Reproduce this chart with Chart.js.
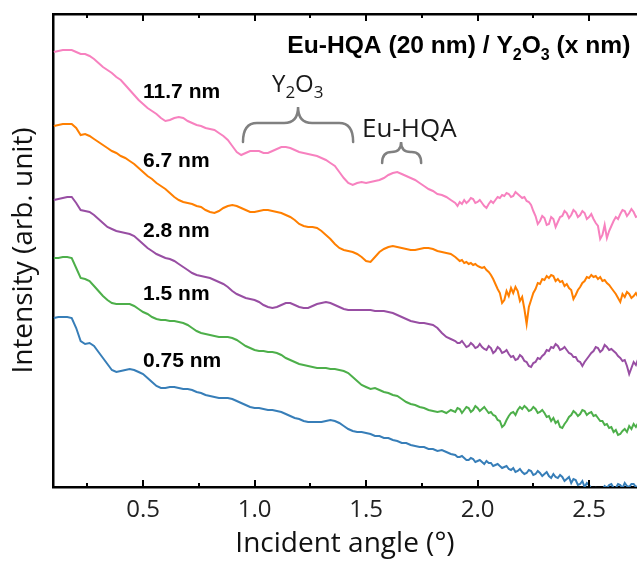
<!DOCTYPE html>
<html><head><meta charset="utf-8">
<script src="https://cdn.jsdelivr.net/npm/chart.js@4.4.1/dist/chart.umd.min.js"></script>
<style>html,body{margin:0;padding:0;background:#fff}canvas{display:block}</style>
</head><body>
<canvas id="c" width="637" height="561"></canvas>
<script>
// Incident angle (deg)
const angles = [
0.10,0.12,0.14,0.16,0.18,0.20,0.22,0.24,0.26,0.28,
0.30,0.32,0.34,0.36,0.38,0.40,0.42,0.44,0.46,0.48,
0.50,0.52,0.54,0.56,0.58,0.60,0.62,0.64,0.66,0.68,
0.70,0.72,0.74,0.76,0.78,0.80,0.82,0.84,0.86,0.88,
0.90,0.92,0.94,0.96,0.98,1.00,1.02,1.04,1.06,1.08,
1.10,1.12,1.14,1.16,1.18,1.20,1.22,1.24,1.26,1.28,
1.30,1.32,1.34,1.36,1.38,1.40,1.42,1.44,1.46,1.48,
1.50,1.52,1.54,1.56,1.58,1.60,1.62,1.64,1.66,1.68,
1.70,1.72,1.74,1.76,1.78,1.80,1.82,1.84,1.86,1.88,
1.90,1.91,1.92,1.93,1.94,1.95,1.96,1.97,1.98,1.99,
2.00,2.01,2.02,2.03,2.04,2.05,2.06,2.07,2.08,2.09,
2.10,2.11,2.12,2.13,2.14,2.15,2.16,2.17,2.18,2.19,
2.20,2.21,2.22,2.23,2.24,2.25,2.26,2.27,2.28,2.29,
2.30,2.31,2.32,2.33,2.34,2.35,2.36,2.37,2.38,2.39,
2.40,2.41,2.42,2.43,2.44,2.45,2.46,2.47,2.48,2.49,
2.50,2.51,2.52,2.53,2.54,2.55,2.56,2.57,2.58,2.59,
2.60,2.61,2.62,2.63,2.64,2.65,2.66,2.67,2.68,2.69,
2.70,2.71,2.72];

// Offset intensities (arb. unit), one array per Y2O3 thickness
const int_11_7 = [
435,436,437,437,437,435,433,433,431,428,
424,420,417,414,410,407,402,397,392,387,
383,379,376,373,369,366,367,369,370,369,
366,364,362,361,359,358,357,354,351,347,
341,335,332,334,336,336,336,334,334,336,
338,340,340,339,337,335,334,333,332,331,
329,327,324,321,315,309,304,302,304,305,
304,305,306,307,309,312,314,315,313,311,
309,307,304,301,298,296,293,292,290,287,
284,281,285,283,287,284,286,289,288,284,
285,287,284,281,279,283,286,284,287,290,
289,292,291,294,293,290,291,295,293,291,
289,290,286,285,282,276,271,263,266,271,
269,262,263,270,268,260,265,270,271,276,
274,269,272,277,275,270,272,276,274,268,
270,273,268,264,261,248,252,262,249,256,
261,266,270,268,273,277,276,271,274,278,
275,270,271];

const int_6_7 = [
361,362,363,363,363,359,352,353,351,348,
345,342,339,336,334,331,329,326,323,319,
315,311,308,304,301,298,294,290,287,285,
284,283,281,280,277,275,274,276,279,281,
282,281,279,277,275,275,276,277,277,276,
275,274,272,270,267,263,261,260,260,259,
256,252,248,243,239,237,236,235,233,230,
226,225,230,235,238,240,241,240,239,238,
237,237,238,239,239,238,236,235,234,233,
230,228,226,227,224,225,223,224,222,223,
221,220,219,220,217,215,212,208,203,198,
194,184,187,196,191,199,194,200,196,186,
190,178,163,180,187,194,198,204,203,208,
207,211,209,212,211,206,208,205,206,201,
203,199,197,188,192,197,200,204,206,210,
209,212,210,211,208,210,206,207,204,202,
199,196,193,189,185,193,190,195,193,189,
191,194,190];

const int_2_8 = [
287,288,289,290,290,284,277,276,275,272,
268,264,260,258,256,255,254,253,251,247,
243,239,236,233,231,229,228,226,223,220,
217,214,212,211,210,209,207,205,203,200,
196,193,191,189,188,187,185,182,180,179,
180,182,184,184,182,180,179,179,181,183,
184,185,184,182,180,178,177,177,177,177,
177,177,176,176,176,175,174,172,170,168,
166,165,164,164,163,162,159,154,150,148,
146,144,144,146,143,140,141,144,142,139,
140,143,140,138,137,141,139,134,136,140,
138,134,135,137,133,130,131,127,128,132,
130,126,125,121,120,124,125,129,128,131,
133,137,136,140,139,143,141,137,138,140,
137,134,133,130,130,126,125,121,125,128,
131,134,136,140,139,135,137,142,140,137,
138,136,134,131,129,126,127,121,113,119,
125,122,128];

const int_1_5 = [
229,229,230,230,229,219,209,208,206,201,
196,191,187,184,183,183,183,183,181,178,
175,173,170,168,167,167,166,166,165,164,
162,159,156,154,153,152,151,150,150,150,
149,147,144,141,139,137,136,136,135,135,
134,132,129,127,125,123,122,121,120,119,
119,119,118,118,117,116,114,110,106,102,
100,98,99,97,95,94,92,91,88,85,
83,82,80,79,77,76,75,76,74,77,
75,79,78,74,77,80,79,75,77,81,
79,76,78,80,77,74,75,72,71,67,
66,60,62,67,71,74,75,72,77,80,
78,81,79,76,77,80,78,74,75,77,
74,70,71,66,69,64,66,60,59,63,
66,70,72,76,74,71,73,77,76,72,
74,75,71,72,69,66,66,62,63,59,
60,55,57,52,53,56,58,55,61,58,
63,60,64];

const int_0_75 = [
169,170,170,170,169,159,146,143,144,141,
135,129,123,117,115,116,117,118,117,115,
113,109,105,101,99,99,100,100,99,98,
98,97,95,94,92,91,90,89,89,89,
88,86,84,82,80,79,79,78,77,77,
76,75,73,71,69,68,66,65,65,65,
65,66,67,66,64,61,58,56,55,55,
54,53,51,51,49,49,47,46,44,44,
42,41,40,40,38,38,36,37,35,33,
32,30,30,31,29,27,27,29,28,25,
26,27,25,23,26,24,24,21,22,23,
21,19,20,21,18,17,19,15,16,18,
15,13,14,17,16,12,13,16,14,11,
13,15,11,9,13,10,9,12,10,6,
8,10,4,8,7,2,3,6,0,4,
2,-2,-3,-1,-5,-2,-3,1,-1,2,
3,-1,-1,3,2,-1,4,1,0,3,
3,0,1];

const seriesNames = ['0.75 nm','1.5 nm','2.8 nm','6.7 nm','11.7 nm'];
const xTickValues = [0.5,1.0,1.5,2.0,2.5];
const xMinorTickValues = [0.25,0.75,1.25,1.75,2.25];

const seriesData = [int_0_75,int_1_5,int_2_8,int_6_7,int_11_7];
const colors = ['#377EB8','#4DAF4A','#984EA3','#FF7F00','#F781BF'];

const datasets = seriesData.map((arr,k)=>({
  label: seriesNames[k],
  data: angles.map((a,i)=>({x:a,y:arr[i]})),
  borderColor: colors[k],
  borderWidth: 2,
  pointRadius: 0,
  tension: 0,
  fill: false
}));

function drawRich(ctx, parts, x, y, font, subFont, subDy){
  let cx = x;
  parts.forEach(p=>{
    ctx.font = p.sub ? subFont : font;
    ctx.fillText(p.t, cx, p.sub ? y + subDy : y);
    cx += ctx.measureText(p.t).width;
  });
}

const decor = {
  id: 'decor',
  afterDraw(chart){
    const {ctx, chartArea:a} = chart;
    const x = chart.scales.x, y = chart.scales.y;
    ctx.save();
    // inward tick marks, bottom and top
    ctx.strokeStyle = '#000';
    ctx.lineWidth = 2;
    const tick = (v,len)=>{
      const px = Math.round(x.getPixelForValue(v));
      ctx.beginPath();
      ctx.moveTo(px, a.bottom); ctx.lineTo(px, a.bottom - len);
      ctx.moveTo(px, a.top); ctx.lineTo(px, a.top + len);
      ctx.stroke();
    };
    xTickValues.forEach(v=>tick(v,7));
    xMinorTickValues.forEach(v=>tick(v,4));

    // curve labels
    ctx.fillStyle = '#000';
    ctx.textAlign = 'left';
    ctx.textBaseline = 'alphabetic';
    ctx.font = 'bold 21px "Liberation Sans", Arial, sans-serif';
    const labelPos = [[0.5,120],[0.5,187],[0.5,250],[0.5,320],[0.5,389]];
    seriesNames.forEach((n,k)=>{
      ctx.fillText(n, x.getPixelForValue(labelPos[k][0]), y.getPixelForValue(labelPos[k][1]));
    });

    // title
    drawRich(ctx,[{t:'Eu-HQA (20 nm) / Y'},{t:'2',sub:true},{t:'O'},{t:'3',sub:true},{t:' (x nm)'}],
      x.getPixelForValue(1.147), y.getPixelForValue(434),
      'bold 24.6px "Liberation Sans", Arial, sans-serif','bold 16px "Liberation Sans", Arial, sans-serif',7);

    // annotations
    ctx.fillStyle = '#1a1a1a';
    drawRich(ctx,[{t:'Y'},{t:'2',sub:true},{t:'O'},{t:'3',sub:true}],
      x.getPixelForValue(1.078), y.getPixelForValue(395),
      '24px "Open Sans", sans-serif','17px "Open Sans", sans-serif',6);
    ctx.font = '26px "Open Sans", sans-serif';
    ctx.fillText('Eu-HQA', x.getPixelForValue(1.482), y.getPixelForValue(350));

    // braces
    ctx.strokeStyle = '#808080';
    ctx.lineWidth = 2.5;
    ctx.lineCap = 'round';
    const brace = (xl,xc,xr,yEnd,yMid,yTip)=>{
      const L=x.getPixelForValue(xl), C=x.getPixelForValue(xc), R=x.getPixelForValue(xr);
      const E=y.getPixelForValue(yEnd), M=y.getPixelForValue(yMid), T=y.getPixelForValue(yTip);
      const r = Math.min(14,(C-L)/2);
      ctx.beginPath();
      ctx.moveTo(L,E);
      ctx.quadraticCurveTo(L,M,L+r,M);
      ctx.lineTo(C-r,M);
      ctx.quadraticCurveTo(C,M,C,T);
      ctx.quadraticCurveTo(C,M,C+r,M);
      ctx.lineTo(R-r,M);
      ctx.quadraticCurveTo(R,M,R,E);
      ctx.stroke();
    };
    brace(0.948,1.195,1.442,345,364,380);
    brace(1.572,1.657,1.747,324,335,345);
    ctx.restore();
  }
};

new Chart(document.getElementById('c'), {
  type: 'line',
  data: { datasets },
  options: {
    responsive: false,
    animation: false,
    devicePixelRatio: 1,
    layout: { padding: 0 },
    plugins: { legend: {display:false}, tooltip: {enabled:false} },
    scales: {
      x: {
        type: 'linear', position: 'bottom', min: 0.096, max: 2.715,
        afterFit: s => { s.height = 74; },
        afterBuildTicks: s => { s.ticks = xTickValues.map(v => ({value: v})); },
        grid: { display: false, drawTicks: false },
        border: { display: true, color: '#000', width: 2.5 },
        ticks: { padding: 9, color: '#222', autoSkip: false, maxRotation: 0,
                 font: { family: '"Open Sans", sans-serif', size: 24 },
                 callback: v => Number(v).toFixed(1) },
        title: { display: true, text: 'Incident angle (°)', color: '#111',
                 font: { family: '"Open Sans", sans-serif', size: 28 }, padding: {top:0, bottom:0} }
      },
      xTop: {
        type: 'linear', position: 'top', min: 0.096, max: 2.715,
        afterFit: s => { s.height = 14; },
        grid: { display: false, drawTicks: false },
        border: { display: true, color: '#000', width: 2.5 },
        ticks: { display: false }
      },
      y: {
        type: 'linear', position: 'left', min: 0, max: 473,
        afterFit: s => { s.width = 53; },
        grid: { display: false, drawTicks: false },
        border: { display: true, color: '#000', width: 2.5 },
        ticks: { display: false },
        title: { display: true, text: 'Intensity (arb. unit)', color: '#111',
                 font: { family: '"Open Sans", sans-serif', size: 28 }, padding: {top:7, bottom:0} }
      }
    }
  },
  plugins: [decor]
});
</script>
</body></html>
